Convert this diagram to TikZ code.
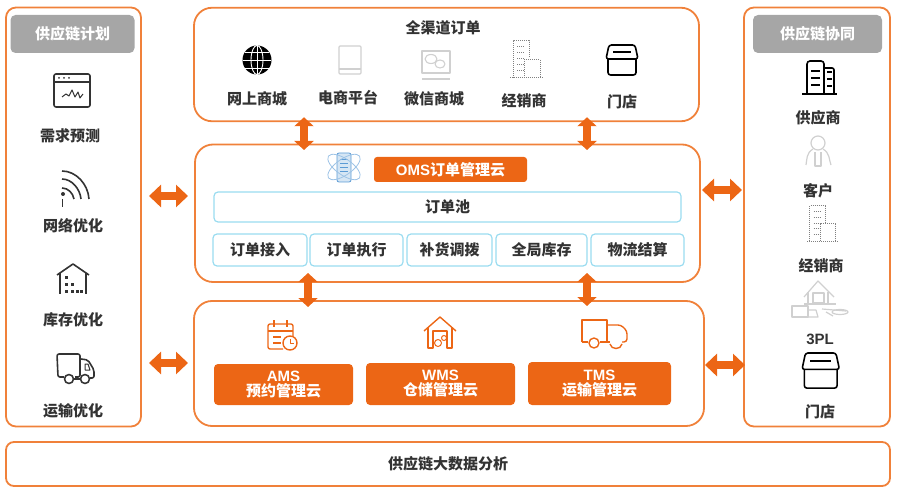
\documentclass[tikz,border=0pt]{standalone}
\usepackage{fontspec}
\setmainfont{Noto Sans CJK SC}
\newfontfamily\latinfont{Liberation Sans}
\usetikzlibrary{arrows.meta}
\definecolor{brandorange}{HTML}{EC6615}
\definecolor{panelorange}{HTML}{F0813A}
\definecolor{poolblue}{HTML}{9ADCF0}
\definecolor{headgray}{HTML}{A6A6A6}
\definecolor{labeltext}{HTML}{333333}
\definecolor{iconfaint}{HTML}{D0D0D0}
\definecolor{iconblue}{HTML}{5B9BD5}
\tikzset{
  panel/.style={draw=panelorange,line width=1.8pt,rounded corners=#1,inner sep=0pt,outer sep=0pt},
  panel/.default=10pt,
  headbox/.style={fill=headgray,rounded corners=5pt,text=white,font=\fontsize{15}{15}\selectfont\bfseries,inner sep=0pt},
  cloudbox/.style={fill=brandorange,rounded corners=4pt,text=white,align=center,font=\fontsize{15}{15}\selectfont\bfseries,inner sep=0pt},
  poolbox/.style={draw=poolblue,line width=1.2pt,rounded corners=4pt,text=labeltext,font=\fontsize{15}{15}\selectfont\bfseries,inner sep=0pt},
  lbl/.style={text=labeltext,font=\fontsize{15}{15}\selectfont\bfseries,inner sep=0pt},
  dblarrow/.style={draw=brandorange,line width=7.5pt,{Triangle[width=19pt,length=9pt]}-{Triangle[width=19pt,length=9pt]}},
  widearrow/.style={draw=brandorange,line width=7.5pt,{Triangle[width=22pt,length=12pt]}-{Triangle[width=22pt,length=12pt]}},
  icon/.style={line width=1.6pt,line join=round},
  storeicon/.pic={
    \draw[rounded corners=2.5pt] (2,14) -- (2,30) -- (30,30) -- (30,14);
    \draw[rounded corners=2.5pt] (3,0) -- (29,0) -- (32,14) -- (0,14) -- cycle;
    \draw (7,7) -- (25,7);
  },
  towericon/.pic={
    \draw[densely dotted] (3,38) -- (3,1) -- (19,1) -- (19,18);
    \draw[densely dotted] (14,38) -- (14,20) -- (30,20) -- (30,38);
    \draw[densely dotted] (0,38) -- (33,38);
    \foreach \r in {7,13,19,25,31} {\draw[densely dotted] (7,\r) -- (15,\r);}
  }
}
\begin{document}
\begin{tikzpicture}[x=1pt,y=-1pt]
  \useasboundingbox (0,0) rectangle (900,489);

  % panels
  \node[panel,minimum width=135pt,minimum height=419pt] (planning) at (73.5,217) {};
  \node[panel,minimum width=146pt,minimum height=419pt] (partners) at (817,217) {};
  \node[panel=18pt,minimum width=505pt,minimum height=113.5pt] (channel) at (446.5,64.5) {};
  \node[panel=18pt,minimum width=505pt,minimum height=137.5pt] (oms) at (447.5,213.25) {};
  \node[panel=18pt,minimum width=510pt,minimum height=125pt] (clouds) at (449,363.5) {};
  \node[panel=8pt,minimum width=884pt,minimum height=44pt] (bigdata) at (448,464) {};
  \node[lbl] (bigdatatxt) at (448,463.5) {供应链大数据分析};

  % left column
  \node[headbox,minimum width=124pt,minimum height=38pt] (planhead) at (72.5,34) {供应链计划};
  \node[lbl] (forecast) at (70,136) {需求预测};
  \node[lbl] (network) at (73,226) {网络优化};
  \node[lbl] (stock) at (73,320) {库存优化};
  \node[lbl] (transport) at (73,411) {运输优化};

  \begin{scope}[icon,draw=labeltext]
    \draw[rounded corners=2pt] (54,74) rectangle (90,107);
    \draw (54,82) -- (90,82);
    \foreach \x in {59,64,69} {\fill[labeltext] (\x,78) circle (1pt);}
    \draw[line width=1pt] (62,97) -- (66,94) -- (69,96) -- (72,90) -- (75,97) -- (78,92) -- (80,98) -- (83,94);
    \draw (62,171) .. controls (76,171) and (88,184) .. (89,199);
    \draw (62,179) .. controls (72,179) and (80,189) .. (81,199);
    \draw (62,188) .. controls (68,188) and (73,193) .. (74,199);
    \fill[labeltext] (63,194) circle (2pt);
    \draw[line width=1pt] (62,199) -- (62,207);
    \draw (57,275) -- (73,264) -- (89,275);
    \draw (60,273) -- (60,294);
    \draw (86,273) -- (86,294);
    \foreach \x/\y in {66/278,66/285,72/285,66/292,72/292,77/292,81/292} {\fill[labeltext] (\x-1.5,\y-1.5) rectangle (\x+1.5,\y+1.5);}
    \draw[rounded corners=2pt] (64,377) -- (58,377) -- (57,354) -- (80,354) -- (80,377) -- (75,377);
    \draw[rounded corners=2pt] (81,359) -- (88,360) -- (94,370) -- (94,378) -- (90,378);
    \draw[line width=1pt] (85,364) -- (88,364) -- (90,370) -- (85,370) -- cycle;
    \draw (69,379) circle (4.5pt);
    \draw (85,379) circle (4.5pt);
    \draw (74,379) -- (80,379);
  \end{scope}

  % channel panel
  \node[lbl] (channeltitle) at (443,28) {全渠道订单};
  \node[lbl] (webshop) at (257,99) {网上商城};
  \node[lbl] (eplatform) at (348,98) {电商平台};
  \node[lbl] (wechat) at (434,99) {微信商城};
  \node[lbl] (dealer) at (524,101) {经销商};
  \node[lbl] (shop) at (622,102) {门店};

  \fill[black] (257,60) circle (14.5pt);
  \begin{scope}[draw=white,line width=.9pt]
    \draw (257,60) ellipse (6pt and 14.5pt);
    \draw (243,60) -- (271,60);
    \draw (245,52) -- (269,52);
    \draw (245,68) -- (269,68);
    \draw (257,46) -- (257,74);
  \end{scope}
  \begin{scope}[icon,draw=iconfaint,line width=1.1pt]
    \draw[rounded corners=1pt] (339,46) rectangle (361,74);
    \draw (339,69) -- (361,69);
    \draw (422,51) rectangle (450,73);
    \draw (422,79) -- (450,79);
    \draw (431,59) ellipse (6pt and 4.5pt);
    \draw (440,64) ellipse (5pt and 4pt);
  \end{scope}
  \path[icon,draw=gray,line width=1pt] (510,40) pic {towericon};
  \path[icon,draw=black,line width=1.6pt] (606,45) pic {storeicon};

  % oms panel
  \begin{scope}[draw=iconblue,line width=.8pt]
    \draw[fill=iconblue!25,rounded corners=2pt] (337,153) rectangle (351,182);
    \foreach \r in {159,163,167,171} {\draw (340,\r) -- (348,\r);}
    \draw[iconblue!60,rotate around={35:(344,167)}] (344,167) ellipse (19pt and 8pt);
    \draw[iconblue!60,rotate around={-35:(344,167)}] (344,167) ellipse (19pt and 8pt);
  \end{scope}
  \node[cloudbox,rounded corners=3pt,minimum width=153pt,minimum height=25pt] (omshead) at (450.5,169.5) {{\latinfont OMS}订单管理云};
  \node[poolbox,minimum width=467pt,minimum height=30pt] (pool) at (447.5,207) {订单池};
  \node[poolbox,minimum width=94pt,minimum height=32pt] (intake) at (260,250) {订单接入};
  \node[poolbox,minimum width=93pt,minimum height=32pt] (execute) at (356.5,250) {订单执行};
  \node[poolbox,minimum width=85pt,minimum height=32pt] (replenish) at (449.5,250) {补货调拨};
  \node[poolbox,minimum width=91pt,minimum height=32pt] (inventory) at (541.5,250) {全局库存};
  \node[poolbox,minimum width=93pt,minimum height=32pt] (settle) at (637.5,250) {物流结算};

  % cloud panel
  \begin{scope}[icon,draw=brandorange,line width=1.4pt]
    \draw[rounded corners=2pt] (286,324) -- (268,324) -- (268,349) -- (283,349);
    \draw (268,331) -- (293,331);
    \draw[rounded corners=2pt] (286,324) -- (293,324) -- (293,336);
    \draw (274,320) -- (274,327);
    \draw (287,320) -- (287,327);
    \draw (273,337) -- (281,337);
    \draw (273,343) -- (281,343);
    \draw[fill=white] (290,343) circle (7pt);
    \draw[line width=1pt] (290,339) -- (290,343) -- (294,343);
    \draw (424,331) -- (440,317) -- (456,331);
    \draw (428,328) -- (428,348) -- (433,348) -- (433,331) -- (447,331) -- (447,348) -- (452,348) -- (452,328);
    \draw[line width=1pt] (438,343) circle (3.5pt);
    \draw[line width=1pt] (444,338) circle (2.5pt);
    \draw (582,342) -- (582,320) -- (607,320) -- (607,342) -- (600,342);
    \draw (582,342) -- (588,342);
    \draw[rounded corners=3pt] (607,325) -- (621,325) -- (627,331) -- (627,342) -- (622,342);
    \draw (594,343) circle (5pt);
    \draw (607,342) -- (610,342);
    \draw (610,344) .. controls (611,350) and (621,350) .. (622,344);
  \end{scope}
  \node[cloudbox,minimum width=139pt,minimum height=41pt] (ams) at (283.5,384.5) {{\latinfont AMS}\\预约管理云};
  \node[cloudbox,minimum width=149pt,minimum height=42pt] (wms) at (440.5,384) {{\latinfont WMS}\\仓储管理云};
  \node[cloudbox,minimum width=143pt,minimum height=43pt] (tms) at (599.5,383.5) {{\latinfont TMS}\\运输管理云};

  % right column
  \node[headbox,minimum width=129pt,minimum height=38pt] (partnerhead) at (817.5,34) {供应链协同};
  \node[lbl] (supplier) at (818,118) {供应商};
  \node[lbl] (customer) at (818,191) {客户};
  \node[lbl] (dealerb) at (821,266) {经销商};
  \node[lbl] (tpl) at (820,339) {\latinfont 3PL};
  \node[lbl] (shopb) at (820,412) {门店};

  \begin{scope}[icon,draw=black,line width=1.6pt]
    \draw[rounded corners=3pt] (807,93) -- (807,61) -- (824,61) -- (824,93);
    \draw[rounded corners=2pt] (824,68) -- (834,68) -- (834,93);
    \draw (802,94) -- (837,94);
    \foreach \r in {71,78,85} {\draw (811,\r) -- (820,\r); \draw (827,\r+1) -- (832,\r+1);}
  \end{scope}
  \begin{scope}[icon,draw=iconfaint,line width=1.2pt]
    \draw (818,143) circle (7pt);
    \draw (813,149) .. controls (806,153) and (807,160) .. (806,165);
    \draw (823,149) .. controls (830,153) and (829,160) .. (831,165);
    \draw (815,152) -- (815,166) -- (821,166) -- (821,152);
    \draw (804,297) -- (818,281) -- (834,297);
    \draw (808,303) -- (808,292);
    \draw (828,303) -- (828,292);
    \draw (813,293) rectangle (824,303);
    \draw (804,304) -- (836,304);
    \draw (792,306) rectangle (808,317);
    \draw (808,310) -- (816,310) -- (818,317) -- (808,317);
    \draw (822,309) -- (846,311);
    \draw (840,312) ellipse (8pt and 2.5pt);
    \draw (826,312) -- (833,316);
  \end{scope}
  \path[icon,draw=gray,line width=1pt] (807,205) pic[scale=.95] {towericon};
  \path[icon,draw=black,line width=1.6pt] (802,353) pic[scale=1.17] {storeicon};

  % connectors
  \draw[dblarrow,shorten <=-4pt,shorten >=-5.5pt] ([xshift=-142.5pt]channel.south) -- ([xshift=-143.5pt]oms.north);
  \draw[dblarrow,shorten <=-4pt,shorten >=-5.5pt] ([xshift=140.5pt]channel.south) -- ([xshift=139.5pt]oms.north);
  \draw[dblarrow,shorten <=-9pt,shorten >=-6pt] ([xshift=-139.5pt]oms.south) -- ([xshift=-141pt]clouds.north);
  \draw[dblarrow,shorten <=-9pt,shorten >=-5pt] ([xshift=139.5pt]oms.south) -- ([xshift=138pt]clouds.north);
  \draw[widearrow,shorten <=8pt,shorten >=7pt] ([yshift=21pt]planning.east) -- ([yshift=17.25pt]oms.west);
  \draw[widearrow,shorten <=8pt,shorten >=6pt] ([yshift=-146pt]planning.east) -- ([yshift=.5pt]clouds.west);
  \draw[widearrow,shorten <=2pt,shorten >=2pt] ([yshift=23.25pt]oms.east) -- ([yshift=27pt]partners.west);
  \draw[widearrow,shorten <=1pt,shorten >=-1pt] ([yshift=-1.5pt]clouds.east) -- ([yshift=-148pt]partners.west);
\end{tikzpicture}
\end{document}
